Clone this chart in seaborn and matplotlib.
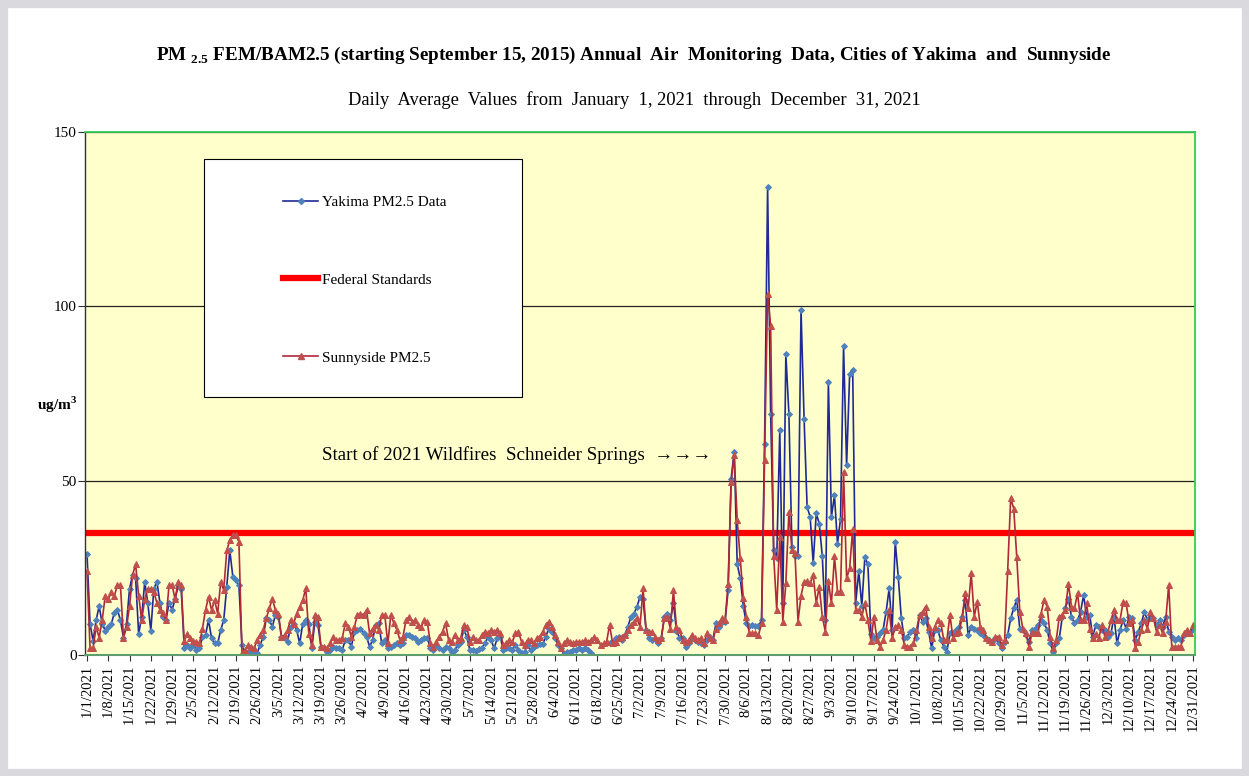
import numpy as np
import pandas as pd
import matplotlib
matplotlib.use("Agg")
import matplotlib.pyplot as plt
import seaborn as sns
from matplotlib.lines import Line2D
from matplotlib.patches import Rectangle

nan = np.nan
dates = pd.date_range("2021-01-01", "2021-12-31", freq="D")

yakima = [
    29, 9, 4, 10, 14, 9, 7, 8, 9, 12,
    13, 10, 5, 9, 19, 23, 22, 6, 11, 21,
    15, 7, 19, 21, 15, 11, 10, 15, 13, 16,
    20, 19, 2, 3, 2, 3, 1.4, 1.9, 5.2, 5.7,
    10, 4.8, 3.3, 3.3, 7.2, 10, 19.6, 30, 22.4, 21.5,
    20, 2.9, 0.5, 1, 1, 1.4, 0.5, 2.9, 5.2, 10.5,
    10, 8.1, 11.5, 11, 5.2, 4.8, 3.8, 8.1, 9, 7.2,
    3.3, 9, 10, 9, 2, 9.5, 8.6, 2.4, 1.9, 1,
    1.4, 2.4, 1.9, 1.9, 1.4, 4.3, 4.3, 2.4, 6.7, 7.2,
    7.6, 6.2, 5.3, 2.4, 4.3, 8.6, 9.1, 3.3, 4.3, 1.9,
    2.4, 2.9, 3.3, 2.9, 3.3, 5.7, 5.7, 5.3, 4.8, 3.8,
    4.3, 4.8, 5, 1.9, 1.4, 2.9, 1.9, 1.4, 2.4, 1.9,
    1, 1.4, 2.9, 3.8, 7.2, 5.3, 1.4, 1.4, 1.2, 1.6,
    1.9, 3.3, 5.3, 4.3, 1.9, 4.8, 5.3, 1.4, 1.9, 1.9,
    1.4, 2.9, 1.4, 0.5, 1, 2.9, 1.4, 2.4, 2.9, 3.1,
    3.1, 5.3, 7.6, 6.7, 4.8, 2.9, 1.9, 0.2, 1, 1,
    1.4, 1.4, 1.9, 1.4, 1.9, 1.4, 0.5, nan, nan, nan,
    nan, nan, 3.3, 3.8, 4.8, 5.3, 4.3, 5.7, 8.1, 10.9,
    11.9, 13.8, 16.7, 16, 7.2, 4.8, 4.3, 4.5, 3.3, 4.8,
    10.9, 11.9, 10, 15, 7, 5, 4.8, 2.4, 3.3, 4.8,
    4.3, 3.8, 3.3, 2.9, 4.3, 5.3, 4.3, 9.1, 8.1, 9.6,
    9.6, 18.6, 50.6, 58.3, 26, 22, 14, 9.1, 8.2, 8.6,
    8.2, 8.2, 10, 60.6, 134.2, 69.2, 30.1, 27.7, 64.5, 14.8,
    86.4, 69.2, 31.1, 28.3, 28.3, 98.9, 67.8, 42.5, 39.6, 26.3,
    40.6, 37.7, 28.3, 10, 78.3, 39.6, 45.8, 31.9, 39.1, 88.6,
    54.4, 80.7, 81.7, 15, 24, 14, 28, 26, 6, 4.8,
    5.3, 6.2, 7.2, 12.4, 19.1, 7.2, 32.5, 22.4, 10.5, 4.8,
    5.3, 6.7, 7.2, 4.8, 11.5, 9.6, 10.5, 6.7, 1.9, 7.2,
    7.2, 4.3, 2.4, 1, 6.2, 6.2, 7.2, 8.1, 11, 15.8,
    5.7, 8.1, 7.6, 7.2, 6.2, 5.7, 4.8, 4.3, 3.8, 4.8,
    3.3, 1.9, 3.8, 5.7, 10.5, 13.4, 15.8, 7.6, 7.2, 5.7,
    3.8, 7.2, 7.6, 8.6, 10, 9.1, 7.2, 3.3, 1, 3.3,
    4.8, 11, 13.4, 16.2, 11, 9.1, 10, 12.4, 17.2, 11,
    11.5, 5.3, 8.5, 8.1, 7.2, 7.2, 5.3, 6.2, 11, 3.3,
    7.2, 10, 7.6, 11, 10.5, 4.3, 6.7, 9.1, 12.4, 10,
    11, 10.5, 8.6, 10, 8.1, 11, 6.7, 5.3, 4.3, 4.8,
    4.3, 5.7, 6.2, 6.7, 7.6,
]

sunnyside = [
    24, 2, 2, 8, 5, 10, 17, 16, 18, 17,
    20, 20, 5, 8, 14, 23, 26, 17, 10, 16,
    19, 19, 18, 15, 13, 12, 10, 20, 20, 16,
    21, 20, 4, 6, 5, 4, 3.8, 3.3, 7.6, 12.9,
    16.7, 12.9, 15.7, 11.9, 21, 18.6, 30, 32.9, 34.4, 34.4,
    32.5, 0.5, 1.4, 2.9, 2.4, 1.9, 4.3, 5.7, 7.2, 10.5,
    13.4, 16.2, 12.9, 11.9, 5.2, 5.7, 7.2, 10, 9, 11.9,
    13.8, 15.7, 19.1, 6, 3, 11.5, 11, 2.4, 2.4, 1.9,
    3.3, 5.3, 4.3, 4.3, 4.8, 9.1, 8.1, 5.3, 8.1, 11.5,
    11.9, 11.5, 12.9, 6.2, 7.6, 8.6, 7.2, 11.5, 11.5, 3.3,
    11.5, 9.1, 7.2, 4.3, 5.3, 10, 11, 9.6, 10, 8.6,
    8.1, 10, 9.5, 3.3, 2.4, 3.8, 5.3, 6.7, 9.1, 4.3,
    3.8, 5.7, 4.3, 4.8, 8.6, 8.1, 3.8, 5.3, 4.3, 4.3,
    5.7, 6.7, 6.2, 7.2, 6.7, 7.2, 6.2, 2.9, 3.3, 4.3,
    3.8, 6.2, 6.7, 3.8, 2.9, 4.3, 4.3, 3.3, 4.8, 5.3,
    6.7, 8.6, 9.6, 8.1, 5.7, 3.8, 1.9, 3.3, 4.3, 3.8,
    3.3, 3.8, 3.8, 3.8, 4.3, 3.8, 4.3, 5.3, 4.3, 2.9,
    3.3, 3.8, 8.6, 3.3, 3.8, 4.8, 5.3, 5.7, 7.2, 8.6,
    9.6, 10.5, 8.1, 19.1, 7.2, 6.7, 6.7, 5.3, 4.3, 4.8,
    10.5, 11, 7.6, 18.6, 8, 7.2, 4.3, 3.8, 4.3, 5.7,
    4.8, 4.3, 4.8, 3.3, 6.2, 4.8, 4.3, 7.6, 9.1, 10.5,
    10, 20.5, 49.7, 57.3, 38.7, 27.7, 16.3, 11, 6.2, 6.2,
    6.2, 5.7, 9.1, 55.8, 103.5, 94.5, 28.3, 12.9, 33.9, 9.6,
    20.6, 41, 30.1, 29.2, 9.6, 17, 21, 21.1, 20.6, 22.9,
    14.8, 19.6, 11, 6.7, 21.1, 14.8, 28.3, 18.2, 18.2, 52.5,
    22, 24.9, 36.2, 12.9, 12.9, 11, 14.8, 10, 4, 11,
    4.3, 2.4, 4.3, 7.2, 13, 4.8, 8.1, 8.6, 7.2, 2.9,
    2.4, 2.4, 3.3, 7.2, 11.5, 12.4, 13.9, 8.1, 4.8, 8.1,
    10, 9.1, 4.3, 4.3, 11.5, 4.8, 6.2, 6.7, 10.5, 17.7,
    13.4, 23.4, 11, 15.3, 8.1, 7.2, 5, 4.3, 3.8, 5.3,
    5.3, 2.9, 4.3, 24, 45, 42, 28, 12.4, 7.6, 6.2,
    2.4, 6.2, 6.2, 6.2, 11.9, 15.8, 13.9, 5.3, 1.9, 4.3,
    11, 11.5, 12.9, 20.5, 13.9, 13.4, 17.7, 10, 10, 14.8,
    7.6, 4.8, 6, 4.8, 8.6, 5.3, 6.7, 10, 12.9, 10,
    10, 15.3, 14.8, 9.1, 10, 1.9, 3.8, 7.2, 10, 7.6,
    12.4, 10.5, 6.7, 8.6, 6.2, 9.6, 20.1, 2.4, 2.4, 2.4,
    2.4, 6.2, 7.2, 6.2, 8.6,
]

federal_standard = 35
y_ticks = [0, 50, 100, 150]
tick_dates = dates[::7]
tick_labels = [f"{d.month}/{d.day}/{d.year}" for d in tick_dates]
series_labels = ["Yakima PM2.5 Data", "Federal Standards", "Sunnyside PM2.5"]

SERIF = ["Liberation Serif", "DejaVu Serif"]
plt.rcParams["font.family"] = SERIF
plt.rcParams["mathtext.fontset"] = "custom"
plt.rcParams["mathtext.rm"] = "Liberation Serif"
plt.rcParams["mathtext.bf"] = "Liberation Serif:bold"

BLUE_LINE = "#1F2A96"
BLUE_MARK = "#4F81BD"
RED_LINE = "#B0283A"
RED_MARK = "#C0504D"

df = pd.DataFrame({"date": dates, "Yakima": yakima, "Sunnyside": sunnyside,
                   "Standard": [federal_standard] * len(dates)})

fig = plt.figure(figsize=(12.49, 7.76), dpi=100)
fig.patch.set_facecolor("white")
fig.patches.append(Rectangle((0, 0), 1, 1, transform=fig.transFigure, fill=False,
                             edgecolor="#D9D9DE", linewidth=11, zorder=0))
ax = fig.add_axes([85 / 1249, 1 - 655 / 776, 1110 / 1249, 523 / 776])
ax.set_facecolor("#FFFFCC")

# federal standard line
sns.lineplot(data=df, x="date", y="Standard", ax=ax, color="#FF0000", linewidth=4.5,
             legend=False, zorder=2)

# Yakima: plot contiguous segments so gaps stay gaps
valid = df["Yakima"].notna()
seg_id = (valid != valid.shift()).cumsum()
for _, seg in df[valid].groupby(seg_id[valid]):
    sns.lineplot(data=seg, x="date", y="Yakima", ax=ax, color=BLUE_LINE, linewidth=1.2,
                 marker="D", markersize=3.0, markerfacecolor=BLUE_MARK,
                 markeredgecolor=BLUE_MARK, legend=False, zorder=3)

sns.lineplot(data=df, x="date", y="Sunnyside", ax=ax, color=RED_LINE, linewidth=1.2,
             marker="^", markersize=4, markerfacecolor=RED_MARK,
             markeredgecolor=RED_MARK, legend=False, zorder=4)

ax.set_xlim(dates[0] - pd.Timedelta(days=0.66), dates[-1] + pd.Timedelta(days=0.66))
ax.set_ylim(0, 150)
ax.set_yticks(y_ticks)
ax.set_yticklabels([str(v) for v in y_ticks], fontsize=11)
ax.set_xticks(tick_dates)
ax.set_xticklabels(tick_labels, rotation=90, fontsize=10.5)
ax.tick_params(axis="x", length=4, width=0.8, color="#333333", pad=3)
ax.tick_params(axis="y", length=5, width=0.8, color="#333333", pad=1)
ax.set_xlabel("")
ax.set_ylabel("")

ax.grid(axis="y", color="#222222", linewidth=0.9)
ax.grid(axis="x", visible=False)
ax.set_axisbelow(True)
for s in ["top", "right"]:
    ax.spines[s].set_color("#33CC55")
    ax.spines[s].set_linewidth(1.3)
ax.spines["bottom"].set_color("#5E9E6E")
ax.spines["bottom"].set_linewidth(1.5)
ax.spines["left"].set_color("#333333")
ax.spines["left"].set_linewidth(1.0)
for s in ax.spines.values():
    s.set_zorder(6)

# legend box
ax.add_patch(Rectangle((0.107, 0.493), 0.287, 0.455, transform=ax.transAxes,
                       facecolor="white", edgecolor="black", linewidth=0.8, zorder=7))
handles = [
    Line2D([], [], color=BLUE_LINE, linewidth=1.2, marker="D", markersize=3.0,
           markerfacecolor=BLUE_MARK, markeredgecolor=BLUE_MARK),
    Line2D([], [], color="#FF0000", linewidth=4.5),
    Line2D([], [], color=RED_LINE, linewidth=1.2, marker="^", markersize=4,
           markerfacecolor=RED_MARK, markeredgecolor=RED_MARK),
]
leg = ax.legend(handles, series_labels, loc="upper left", bbox_to_anchor=(0.1784, 0.879),
                frameon=False, borderpad=0, borderaxespad=0, labelspacing=4.2,
                handlelength=2.3, handletextpad=0.25, prop={"family": SERIF, "size": 11})
leg.set_zorder(8)

ax.text(-0.025, 0.478, "ug/m$^{\\mathbf{3}}$", transform=ax.transAxes, ha="center",
        va="center", fontsize=11, fontweight="bold")
ax.text(0.2135, 0.382, "Start of 2021 Wildfires  Schneider Springs  \u2192\u2192\u2192",
        transform=ax.transAxes, ha="left", va="center", fontsize=13.7, zorder=5)

fig.text(0.507, 0.929,
         "PM $_{\\mathbf{2.5}}$ FEM/BAM2.5 (starting September 15, 2015) Annual  Air  Monitoring  Data, Cities of Yakima  and  Sunnyside",
         ha="center", va="center", fontsize=13.8, fontweight="bold")
fig.text(0.508, 0.871,
         "Daily  Average  Values  from  January  1, 2021  through  December  31, 2021",
         ha="center", va="center", fontsize=13.3)

fig.savefig("out.png", dpi=100, facecolor=fig.get_facecolor())
